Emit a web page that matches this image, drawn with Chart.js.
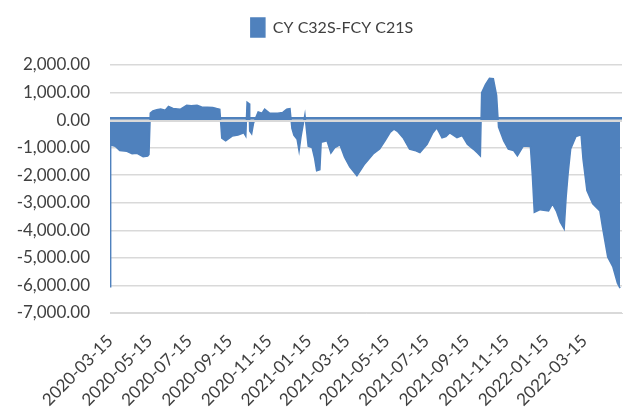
<!DOCTYPE html>
<html>
<head>
<meta charset="utf-8">
<script src="https://cdn.jsdelivr.net/npm/chart.js@4.4.1/dist/chart.umd.min.js"></script>
<style>
  html, body { margin: 0; padding: 0; background: #fff; }
  #wrap { width: 627px; height: 412px; }
</style>
</head>
<body>
<div id="wrap"><canvas id="chart"></canvas></div>
<script>
const seriesName = 'CY C32S-FCY C21S';

// dates and spread values
const dates = [
  '2020-03-15','2020-03-16','2020-03-23','2020-03-30','2020-04-10','2020-04-18','2020-04-25','2020-05-05','2020-05-12','2020-05-14',
  '2020-05-16','2020-05-20','2020-05-26','2020-06-01','2020-06-08','2020-06-13','2020-06-20','2020-07-01','2020-07-11','2020-07-18',
  '2020-07-27','2020-08-03','2020-08-12','2020-08-20','2020-08-26','2020-08-31','2020-09-03','2020-09-09','2020-09-19','2020-09-28',
  '2020-10-07','2020-10-10','2020-10-12','2020-10-15','2020-10-16','2020-10-19','2020-10-22','2020-10-29','2020-11-04','2020-11-08',
  '2020-11-16','2020-11-28','2020-12-06','2020-12-12','2020-12-17','2020-12-20','2020-12-23','2020-12-28','2020-12-31','2021-01-03',
  '2021-01-09','2021-01-14','2021-01-20','2021-01-24','2021-01-27','2021-02-01','2021-02-03','2021-02-12','2021-02-18','2021-02-24',
  '2021-03-04','2021-03-11','2021-03-19','2021-03-30','2021-04-04','2021-04-11','2021-04-24','2021-05-04','2021-05-12','2021-05-20',
  '2021-05-26','2021-06-01','2021-06-09','2021-06-19','2021-06-27','2021-07-05','2021-07-16','2021-07-25','2021-07-31','2021-08-08',
  '2021-08-14','2021-08-20','2021-08-31','2021-09-08','2021-09-16','2021-09-25','2021-10-02','2021-10-06','2021-10-08','2021-10-14',
  '2021-10-20','2021-10-26','2021-10-31','2021-11-03','2021-11-11','2021-11-18','2021-11-26','2021-12-02','2021-12-11','2021-12-22',
  '2021-12-25','2021-12-28','2022-01-06','2022-01-19','2022-01-25','2022-01-31','2022-02-06','2022-02-12','2022-02-15','2022-02-18',
  '2022-02-22','2022-03-02','2022-03-10','2022-03-13','2022-03-19','2022-03-28','2022-04-08','2022-04-12','2022-04-20','2022-04-28',
  '2022-05-05','2022-05-09'
];
const spread = [
  -6050,-900,-950,-1100,-1130,-1220,-1200,-1330,-1300,-1250,
  250,330,380,400,360,500,420,390,540,520,
  540,480,470,460,420,390,-650,-750,-580,-540,
  -460,-580,650,600,-400,-500,-100,300,250,400,
  250,250,280,400,420,-300,-550,-700,-1120,-600,
  200,-950,-1000,-1400,-1840,-1800,-800,-750,-1200,-1000,
  -900,-1350,-1700,-2020,-1840,-1590,-1230,-1050,-760,-450,
  -330,-420,-640,-1050,-1100,-1180,-880,-460,-280,-640,
  -600,-460,-640,-560,-880,-1050,-1200,-1300,1000,1300,
  1520,1500,900,-250,-760,-1050,-1100,-1300,-940,-960,
  -2000,-3350,-3250,-3300,-3040,-3300,-3700,-3950,-2800,-1950,
  -1050,-600,-530,-1420,-2560,-3040,-3300,-3890,-4970,-5330,
  -5920,-6100
];

const tickDates = [
  '2020-03-15','2020-05-15','2020-07-15','2020-09-15','2020-11-15','2021-01-15','2021-03-15',
  '2021-05-15','2021-07-15','2021-09-15','2021-11-15','2022-01-15','2022-03-15'
];
const yMin = -7000;
const yMax = 2000;
const yStep = 1000;

const startDay = Date.UTC(2020, 2, 15);
function dayOf(s) {
    const p = s.split('-').map(Number);
    return Math.round((Date.UTC(p[0], p[1] - 1, p[2]) - startDay) / 86400000);
}
const tickDays = tickDates.map(dayOf);
const points = dates.map((d, i) => ({ x: dayOf(d), y: spread[i] }));

const blue = '#4f81bd';
const grey = '#d9d9d9';
const textColor = '#404040';
const fontFamily = 'Lato, "Open Sans", sans-serif';

// zero axis line sits on top of the area in the original
const zeroLine = {
    id: 'zeroLine',
    afterLayout(chart) {
        // legend sits a bit right of centre and higher than the plot gap
        const lg = chart.legend;
        lg.left += 21;
        lg.right += 21;
        lg.top -= 18;
        lg.bottom -= 18;
    },
    afterDatasetsDraw(chart) {
        const { ctx, chartArea, scales } = chart;
        const y0 = scales.y.getPixelForValue(0);
        ctx.save();
        ctx.lineWidth = 2.5;
        ctx.strokeStyle = blue;
        ctx.beginPath();
        ctx.moveTo(chartArea.left, y0 - 1.8);
        ctx.lineTo(chartArea.right, y0 - 1.8);
        ctx.stroke();
        ctx.lineWidth = 2;
        ctx.strokeStyle = grey;
        ctx.beginPath();
        ctx.moveTo(chartArea.left, y0 + 0.8);
        ctx.lineTo(chartArea.right, y0 + 0.8);
        ctx.stroke();
        ctx.restore();
    }
};

new Chart(document.getElementById('chart'), {
    type: 'line',
    data: {
        datasets: [{
            label: seriesName,
            data: points,
            backgroundColor: blue,
            borderColor: blue,
            borderWidth: 1.5,
            pointRadius: 0,
            tension: 0,
            fill: 'origin'
        }]
    },
    options: {
        responsive: true,
        maintainAspectRatio: false,
        animation: false,
        layout: { padding: { top: 24, right: 5, left: 0, bottom: 0 } },
        plugins: {
            legend: {
                position: 'top',
                labels: {
                    color: textColor,
                    font: { family: fontFamily, size: 16 },
                    boxWidth: 14,
                    boxHeight: 19,
                    padding: 12
                }
            },
            tooltip: { enabled: false }
        },
        scales: {
            x: {
                type: 'linear',
                min: 0,
                max: 788,
                afterBuildTicks: scale => { scale.ticks = tickDays.map(v => ({ value: v })); },
                afterFit: scale => { scale.height = 99; },
                grid: { display: false },
                border: { color: grey, width: 1 },
                ticks: {
                    autoSkip: false,
                    maxRotation: 45,
                    minRotation: 45,
                    padding: 10,
                    color: textColor,
                    font: { family: fontFamily, size: 17 },
                    callback: v => tickDates[tickDays.indexOf(v)]
                }
            },
            y: {
                min: yMin,
                max: yMax,
                afterFit: scale => { scale.width = 110; },
                grid: { color: grey, lineWidth: 1.5, drawTicks: false },
                border: { display: false },
                ticks: {
                    stepSize: yStep,
                    padding: 20,
                    color: textColor,
                    font: { family: fontFamily, size: 17 },
                    callback: v => v.toLocaleString('en-US', { minimumFractionDigits: 2, maximumFractionDigits: 2 })
                }
            }
        }
    },
    plugins: [zeroLine]
});
</script>
</body>
</html>
